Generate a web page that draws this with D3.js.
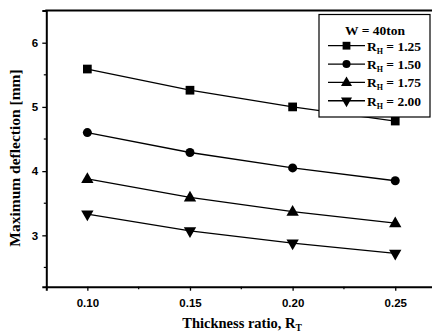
<!DOCTYPE html>
<html><head><meta charset="utf-8">
<script src="https://cdn.jsdelivr.net/npm/d3@7"></script>
<style>body{margin:0;background:#fff}svg{display:block}</style>
</head><body>
<script>
const xValues = [0.10, 0.15, 0.20, 0.25];
const seriesNames = ["1.25", "1.50", "1.75", "2.00"];
const s125 = [5.59, 5.26, 5.00, 4.78];
const s150 = [4.60, 4.29, 4.05, 3.85];
const s175 = [3.88, 3.59, 3.37, 3.19];
const s200 = [3.33, 3.07, 2.88, 2.72];
const xTicks = [0.10, 0.15, 0.20, 0.25];
const yTicks = [3, 4, 5, 6];
const xMinor = [0.125, 0.175, 0.225];
const yMinor = [2.5, 3.5, 4.5, 5.5];
const legendTitle = "W = 40ton";

const series = [s125, s150, s175, s200];
const shapes = [d3.symbolSquare, d3.symbolCircle, d3.symbolTriangle, "down"];

const W = 432, H = 334;
const svg = d3.select("body").append("svg").attr("width", W).attr("height", H);
const x = d3.scaleLinear().domain([0.08, 0.27]).range([46.3, 436.3]);
const y = d3.scaleLinear().domain([2.2, 6.5]).range([286.7, 10.6]);

const serif = "'Liberation Serif','Times New Roman',serif";
const sans = "'Liberation Sans',Arial,sans-serif";

function symPath(i, size) {
  if (shapes[i] === "down") return d3.symbol(d3.symbolTriangle, size)();
  return d3.symbol(shapes[i], size)();
}
function symTransform(i, cx, cy) {
  if (shapes[i] === "down") return `translate(${cx},${cy}) rotate(180)`;
  if (shapes[i] === d3.symbolTriangle) return `translate(${cx},${cy+0.5})`;
  return `translate(${cx},${cy})`;
}
const sizes = [76, 64, 66, 66];

// lines
const line = d3.line().x((d, i) => x(xValues[i])).y(d => y(d));
series.forEach((s, k) => {
  svg.append("path").attr("d", line(s)).attr("fill", "none")
    .attr("stroke", "#000").attr("stroke-width", 1.3);
  svg.selectAll(null).data(s).enter().append("path")
    .attr("d", symPath(k, sizes[k]))
    .attr("transform", (d, i) => symTransform(k, x(xValues[i]), y(d)))
    .attr("fill", "#000");
});

// axes
const xAxis = svg.append("g").attr("transform", `translate(0,${y(2.2)})`)
  .call(d3.axisBottom(x).tickValues(xTicks).tickFormat(d3.format(".2f")).tickSizeOuter(0).tickSize(4));
const yAxis = svg.append("g").attr("transform", `translate(${x(0.08)},0)`)
  .call(d3.axisLeft(y).tickValues(yTicks).tickFormat(d3.format("d")).tickSizeOuter(0).tickSize(4));
[xAxis, yAxis].forEach(g => {
  g.select(".domain").attr("stroke-width", 2);
  g.selectAll(".tick line").attr("stroke-width", 1.3);
  g.selectAll(".tick text").attr("font-family", sans).attr("font-weight", "bold").attr("font-size", 11.5).attr("fill", "#000");
});
xAxis.selectAll(".tick text").attr("dy", "1.15em");
yAxis.selectAll(".tick text").attr("dx", "-0.1em");

// minor ticks
svg.selectAll(null).data(xMinor).enter().append("line")
  .attr("x1", d => x(d)).attr("x2", d => x(d)).attr("y1", y(2.2)).attr("y2", y(2.2) + 2.5)
  .attr("stroke", "#000").attr("stroke-width", 1.2);
svg.selectAll(null).data(yMinor).enter().append("line")
  .attr("y1", d => y(d)).attr("y2", d => y(d)).attr("x1", x(0.08)).attr("x2", x(0.08) - 2.5)
  .attr("stroke", "#000").attr("stroke-width", 1.2);

// top and right frame
svg.append("line").attr("x1", x(0.08) - 1).attr("x2", x(0.27)).attr("y1", y(6.5)).attr("y2", y(6.5))
  .attr("stroke", "#000").attr("stroke-width", 2);
svg.append("line").attr("x1", x(0.27)).attr("x2", x(0.27)).attr("y1", y(6.5)).attr("y2", y(2.2))
  .attr("stroke", "#000").attr("stroke-width", 2);

// axis titles
svg.append("text").attr("x", 242).attr("y", 328).attr("text-anchor", "middle")
  .attr("font-family", serif).attr("font-weight", "bold").attr("font-size", 14.5)
  .text("Thickness ratio, R")
  .append("tspan").attr("font-size", 9.5).attr("dy", 3).text("T");
svg.append("text").attr("transform", "translate(20,158) rotate(-90)").attr("text-anchor", "middle")
  .attr("font-family", serif).attr("font-weight", "bold").attr("font-size", 15.5)
  .text("Maximum deflection [mm]");

// legend
const lg = svg.append("g");
lg.append("rect").attr("x", 319).attr("y", 14.5).attr("width", 111).attr("height", 102.5)
  .attr("fill", "#fff").attr("stroke", "#000").attr("stroke-width", 1.2);
lg.append("text").attr("x", 375).attr("y", 34.5).attr("text-anchor", "middle")
  .attr("font-family", serif).attr("font-weight", "bold").attr("font-size", 13.5).text(legendTitle);
seriesNames.forEach((nm, k) => {
  const cy = 45.7 + k * 18.35;
  lg.append("line").attr("x1", 328).attr("x2", 365).attr("y1", cy).attr("y2", cy)
    .attr("stroke", "#000").attr("stroke-width", 1.3);
  lg.append("path").attr("d", symPath(k, sizes[k] * 0.8)).attr("transform", symTransform(k, 346.5, cy)).attr("fill", "#000");
  const t = lg.append("text").attr("x", 367).attr("y", cy + 4.8)
    .attr("font-family", serif).attr("font-weight", "bold").attr("font-size", 13.5);
  t.append("tspan").text("R");
  t.append("tspan").attr("font-size", 8).attr("dy", 3).text("H");
  t.append("tspan").attr("dy", -3).text(" = " + nm);
});
</script>
</body></html>
